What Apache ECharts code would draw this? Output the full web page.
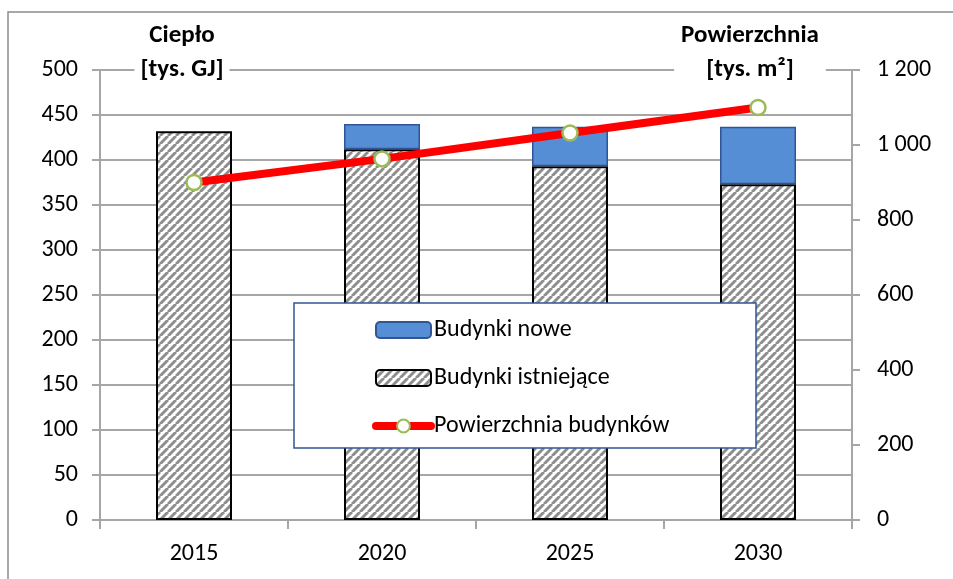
<!DOCTYPE html>
<html>
<head>
<meta charset="utf-8">
<script src="https://cdn.jsdelivr.net/npm/echarts@6/dist/echarts.min.js"></script>
<style>
  html, body { margin: 0; padding: 0; background: #fff; }
  #chart { width: 953px; height: 579px; }
</style>
</head>
<body>
<div id="chart"></div>
<script>
// dane wykresu
var years = ['2015', '2020', '2025', '2030']
var existing = [432, 412, 393, 373]       // Budynki istniejące [tys. GJ]
var newBuild = [null, 28, 44, 64]         // Budynki nowe [tys. GJ]
var area = [900, 963, 1032, 1100]         // Powierzchnia budynków [tys. m2]
var leftTicks = { min: 0, max: 500, step: 50 }
var rightTicks = { min: 0, max: 1200, step: 200 }

var FONT = 'Carlito, Lato, sans-serif'
var GRID = '#a6a6a6'

// kreskowanie (ukośne paski)
function hatch () {
  var c = document.createElement('canvas')
  c.width = 8
  c.height = 8
  var ctx = c.getContext('2d')
  ctx.fillStyle = '#ffffff'
  ctx.fillRect(0, 0, 8, 8)
  ctx.strokeStyle = '#8e8e8e'
  ctx.lineWidth = 3
  ;[-8, 0, 8].forEach(function (k) {
    ctx.beginPath()
    ctx.moveTo(k, 8)
    ctx.lineTo(k + 8, 0)
    ctx.stroke()
  })
  return c
}

var chart = echarts.init(document.getElementById('chart'))

chart.setOption({
  animation: false,
  grid: { left: 100, right: 101, top: 70, bottom: 59 },
  legend: {
    orient: 'vertical',
    left: 367,
    top: 313,
    z: 20,
    itemWidth: 55,
    itemHeight: 16,
    itemGap: 24,
    data: [
      'Budynki nowe',
      'Budynki istniejące',
      { name: 'Powierzchnia budynków', lineStyle: { width: 8, cap: 'round' } }
    ],
    textStyle: { fontFamily: FONT, fontSize: 24, color: '#000', padding: [0, 0, 0, -2] }
  },
  graphic: [
    {
      type: 'rect', z: 100, silent: true,
      shape: { x: 8, y: 12, width: 1000, height: 700 },
      style: { fill: 'none', stroke: '#8c8c8c', lineWidth: 1.5 }
    },
    {
      type: 'rect', z: 15, silent: true,
      shape: { x: 294, y: 303, width: 462, height: 145 },
      style: { fill: '#fff', stroke: '#2f5597', lineWidth: 1.5 }
    },
    {
      type: 'text', z: 15, x: 182, y: 36,
      style: { text: 'Ciepło', font: 'bold 25px ' + FONT, fill: '#000', align: 'center', verticalAlign: 'middle' }
    },
    {
      type: 'text', z: 15, x: 182, y: 70,
      style: { text: '[tys. GJ]', font: 'bold 25px ' + FONT, fill: '#000', align: 'center', verticalAlign: 'middle', backgroundColor: '#fff', padding: [4, 6] }
    },
    {
      type: 'text', z: 15, x: 750, y: 36,
      style: { text: 'Powierzchnia', font: 'bold 25px ' + FONT, fill: '#000', align: 'center', verticalAlign: 'middle' }
    },
    {
      type: 'text', z: 15, x: 750, y: 70,
      style: { text: '[tys. m²]', font: 'bold 25px ' + FONT, fill: '#000', align: 'center', verticalAlign: 'middle', backgroundColor: '#fff', padding: [4, 32] }
    }
  ],
  xAxis: {
    type: 'category',
    data: years,
    axisLine: { lineStyle: { color: GRID, width: 2 } },
    axisTick: { show: true, length: 9, lineStyle: { color: GRID, width: 2 } },
    axisLabel: { color: '#000', fontFamily: FONT, fontSize: 24, margin: 22 }
  },
  yAxis: [
    {
      type: 'value',
      min: leftTicks.min, max: leftTicks.max, interval: leftTicks.step,
      axisLine: { show: true, lineStyle: { color: GRID, width: 2 } },
      axisTick: { show: true, length: 8, lineStyle: { color: GRID, width: 2 } },
      splitLine: { lineStyle: { color: GRID, width: 2 } },
      axisLabel: { color: '#000', fontFamily: FONT, fontSize: 24, margin: 22 }
    },
    {
      type: 'value',
      min: rightTicks.min, max: rightTicks.max, interval: rightTicks.step,
      axisLine: { show: true, lineStyle: { color: GRID, width: 2 } },
      axisTick: { show: true, length: 8, lineStyle: { color: GRID, width: 2 } },
      splitLine: { show: false },
      axisLabel: {
        color: '#000', fontFamily: FONT, fontSize: 24, margin: 25,
        formatter: function (v) { return String(v).replace(/\B(?=(\d{3})+(?!\d))/g, ' ') }
      }
    }
  ],
  series: [
    {
      name: 'Budynki istniejące',
      type: 'bar',
      stack: 'ciepło',
      barWidth: 76,
      data: existing,
      itemStyle: { color: { image: hatch(), repeat: 'repeat' }, borderColor: '#000', borderWidth: 2 }
    },
    {
      name: 'Budynki nowe',
      type: 'bar',
      stack: 'ciepło',
      barWidth: 76,
      data: newBuild,
      itemStyle: { color: '#558ed5', borderColor: '#2f5597', borderWidth: 1.5 }
    },
    {
      name: 'Powierzchnia budynków',
      type: 'line',
      yAxisIndex: 1,
      z: 5,
      data: area,
      symbol: 'circle',
      symbolSize: 15,
      lineStyle: { color: '#ff0000', width: 8 },
      itemStyle: { color: '#fff', borderColor: '#9bbb59', borderWidth: 2.5 }
    }
  ]
})
</script>
</body>
</html>
